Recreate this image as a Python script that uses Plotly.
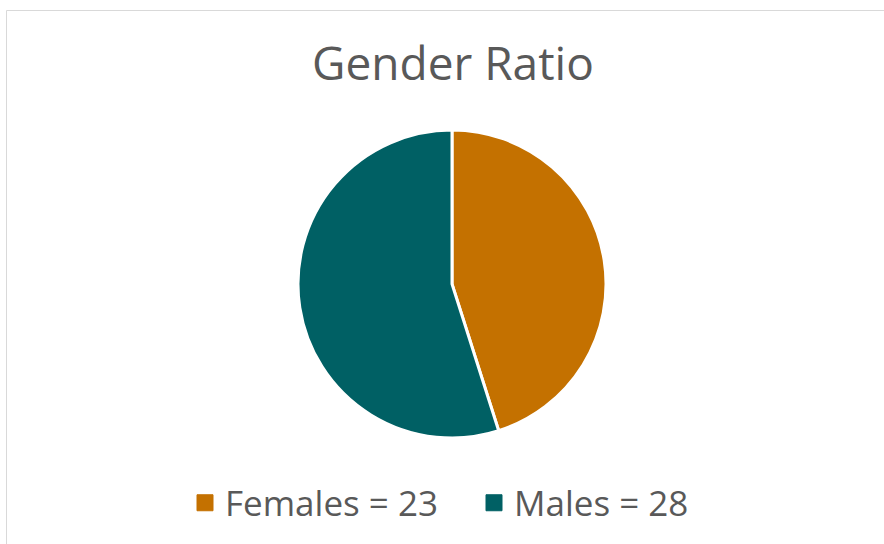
import plotly.graph_objects as go

labels = ["Females = 23", "Males = 28"]
values = [23, 28]
colors = ["#C47100", "#006064"]
title_text = "Gender Ratio"

W, H = 884, 544
fig = go.Figure()
fig.add_trace(go.Pie(
    labels=labels,
    values=values,
    marker=dict(colors=colors, line=dict(color="white", width=3)),
    sort=False,
    direction="clockwise",
    rotation=0,
    textinfo="none",
    hoverinfo="label+percent",
    showlegend=False,
    domain=dict(x=[298 / W, 606 / W], y=[1 - 438 / H, 1 - 130 / H]),
))

# legend entries (square swatches) for the two slices
for lab, col in zip(labels, colors):
    fig.add_trace(go.Scatter(
        x=[None], y=[None], mode="markers", name=lab,
        marker=dict(symbol="square", size=16, color=col, line=dict(color=col, width=1)),
        hoverinfo="skip",
    ))

fig.update_layout(
    width=W, height=H,
    margin=dict(l=0, r=0, t=0, b=0),
    paper_bgcolor="white",
    plot_bgcolor="white",
    font=dict(family="Open Sans", color="#595959"),
    showlegend=True,
    xaxis=dict(visible=False),
    yaxis=dict(visible=False),
    legend=dict(
        orientation="h",
        x=185 / W, xanchor="left",
        y=1 - 503 / H, yanchor="middle",
        font=dict(size=35, color="#595959"),
        entrywidth=244, entrywidthmode="pixels",
        itemclick=False, itemdoubleclick=False,
        bgcolor="rgba(0,0,0,0)",
    ),
    annotations=[dict(
        text=title_text, x=453 / W, y=1 - 62 / H, xref="paper", yref="paper",
        xanchor="center", yanchor="middle", showarrow=False,
        font=dict(size=46, color="#595959", family="Open Sans"),
    )],
    shapes=[dict(
        type="rect", xref="paper", yref="paper",
        x0=6.5 / W, x1=1.05, y0=-0.05, y1=1 - 10.5 / H,
        line=dict(color="#D9D9D9", width=1), fillcolor="rgba(0,0,0,0)",
    )],
)

fig.write_html(
    "out.html",
    config={"displayModeBar": False},
    post_script="document.body.style.margin='0';document.body.style.overflow='hidden';",
)
